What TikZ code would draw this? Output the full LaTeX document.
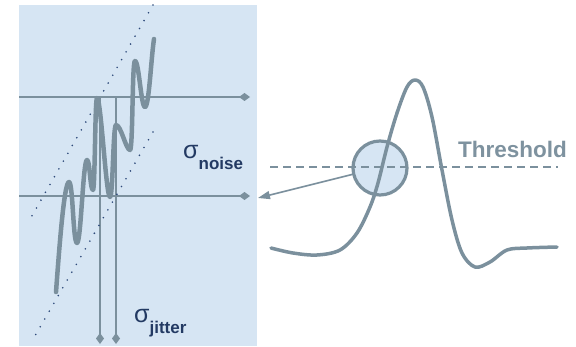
\documentclass[tikz,border=0pt]{standalone}
\usepackage{fontspec}
\setmainfont{Liberation Sans}
\usetikzlibrary{arrows.meta}
\definecolor{panelblue}{HTML}{D6E5F3}
\definecolor{sig}{HTML}{7B909D}
\definecolor{navy}{HTML}{233A63}
\definecolor{thr}{HTML}{7E929F}
\definecolor{dotc}{HTML}{2E4A7A}
\begin{document}
\begin{tikzpicture}[x=1pt,y=1pt,
  guide/.style={draw=sig, line width=2.3pt, -{Diamond[length=11pt,width=8pt]}},
  dotline/.style={draw=dotc, line width=1.8pt, line cap=round, dash pattern=on 0pt off 9pt},
  wave/.style={draw=sig, line width=4.5pt, line cap=round, line join=round},
  pulse/.style={draw=sig, line width=3.5pt, line cap=round, line join=round},
  sigmalabel/.style={text=navy, inner sep=0pt, anchor=base west},
]
\useasboundingbox (0,0) rectangle (576,346);
\fill[panelblue] (19,0) rectangle (257,341);

% coordinates
\coordinate (h1a) at (19,249);
\coordinate (h1b) at (250,249);
\coordinate (h2a) at (19,150);
\coordinate (h2b) at (250,150);
\coordinate (v1a) at (100,249);
\coordinate (v1b) at (100,2);
\coordinate (v2a) at (116,249);
\coordinate (v2b) at (116,2);
\coordinate (d1a) at (153,341);
\coordinate (d1b) at (29,125);
\coordinate (d2a) at (153,214);
\coordinate (d2b) at (32,5);
\coordinate (thA) at (270,179);
\coordinate (thB) at (558,179);
\coordinate (arrtip) at (258,148);

% guide lines
\draw[guide] (h1a) -- (h1b);
\draw[guide] (h2a) -- (h2b);
\draw[guide] (v1a) -- (v1b);
\draw[guide] (v2a) -- (v2b);

% dotted envelopes
\draw[dotline] (d1a) -- (d1b);
\draw[dotline] (d2a) -- (d2b);

% noisy edge
\draw[wave] (56,54) .. controls +(3,40) and +(-5,0) .. (69,164)
  .. controls +(4,0) and +(-4,0) .. (77,103)
  .. controls +(4,0) and +(-4,0) .. (87,186)
  .. controls +(3,0) and +(-3,0) .. (93,156)
  .. controls +(2,0) and +(-2,0) .. (97,248)
  .. controls +(4,0) and +(-4,0) .. (110,149)
  .. controls +(3,0) and +(-3,0) .. (116,221)
  .. controls +(5,0) and +(-4,0) .. (130,196)
  .. controls +(3,0) and +(-3,0) .. (135,285)
  .. controls +(4,0) and +(-4,0) .. (145,239)
  .. controls +(4,0) and +(-3,-20) .. (154,307);

% labels
\node[sigmalabel] (snoise) at (183,187) {\fontsize{25}{25}\selectfont σ\raisebox{-11pt}{\bfseries\fontsize{17}{17}\selectfont noise}};
\node[sigmalabel] (sjitter) at (134,24) {\fontsize{25}{25}\selectfont σ\raisebox{-11pt}{\bfseries\fontsize{17}{17}\selectfont jitter}};

% right side
\node[circle, fill=panelblue, minimum size=54pt, inner sep=0pt] (zoomc) at (380,178) {};
\draw[draw=sig, line width=1.5pt, dash pattern=on 8pt off 5pt] (thA) -- (thB);
\draw[pulse] plot[smooth, tension=0.55] coordinates {
  (271,98) (293,93) (317,91) (340,96) (357,113) (370,139) (378,163)
  (387,199) (397,233) (407,259) (415,266) (423,259) (432,229) (442,176)
  (452,126) (462,93) (475,79) (490,84) (507,96) (527,98) (557,99)};
\draw[draw=sig, line width=3.2pt] (zoomc) circle (27pt);
\draw[draw=sig, line width=1.6pt, -{Triangle[length=12pt,width=8pt]}] (zoomc.193) -- (arrtip);
\node[text=thr, font=\bfseries\fontsize{22.5}{22.5}\selectfont, anchor=base west, inner sep=0pt] (thr) at (458,189) {Threshold};
\end{tikzpicture}
\end{document}
